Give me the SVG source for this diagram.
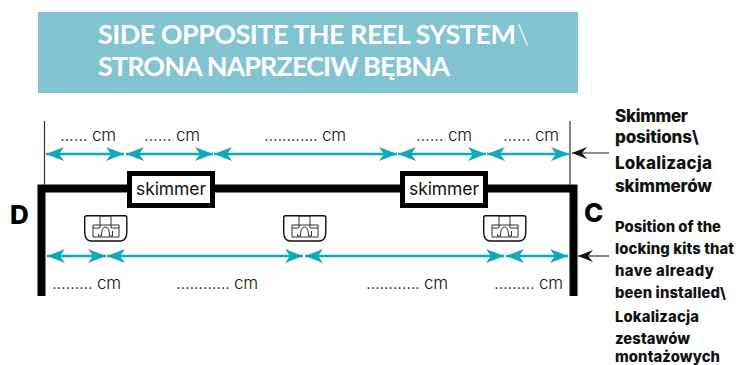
<svg xmlns="http://www.w3.org/2000/svg" width="747" height="365" viewBox="0 0 747 365">
<style>
text{font-family:"Inter","Liberation Sans",sans-serif}
.t{font-family:"Lato","Liberation Sans",sans-serif;font-size:27px;font-weight:700;fill:#fff}
.bs{font-weight:300}
.c{font-size:17px;font-weight:300;fill:#111}
.n{font-size:14.800px;font-weight:800;fill:#111}
.m{font-size:17px;font-weight:800;fill:#111}
.s{font-size:17.500px;font-weight:400;fill:#111}
.l{font-size:26px;font-weight:800;fill:#000}
.teal{stroke:#0eabbd;stroke-width:2.6;fill:none;marker-start:url(#ta);marker-end:url(#tb)}
.blk{stroke:#222;stroke-width:1.1;fill:none;marker-end:url(#ba)}
.box{fill:#fff;stroke:#000;stroke-width:5}
</style>
<defs>
<marker id="tb" markerUnits="userSpaceOnUse" markerWidth="20" markerHeight="16" refX="18" refY="7" orient="auto"><path d="M0 0L18 7L0 14L5 7Z" fill="#0eabbd"/></marker>
<marker id="ta" markerUnits="userSpaceOnUse" markerWidth="20" markerHeight="16" refX="0" refY="7" orient="auto"><path d="M18 0L0 7L18 14L13 7Z" fill="#0eabbd"/></marker>
<marker id="ba" markerUnits="userSpaceOnUse" markerWidth="16" markerHeight="14" refX="15" refY="6" orient="auto"><path d="M0 0L15 6L0 12L5 6Z" fill="#111"/></marker>
<g id="kit">
<path d="M0.700 2.500Q0.700 0.700 2.500 0.700H41Q42.800 0.700 42.800 2.500V17Q42.800 25 37 26H6.500Q0.700 25 0.700 17Z" fill="#fff" stroke="#111" stroke-width="1.400"/>
<path d="M9 10H35V22H9Z M16 1V13H9 M27 1V13H35 M16 1H27 M14.500 19V21H17.500Q17.500 12 21.500 12Q25.500 12 25.500 21H28.500V16" fill="none" stroke="#333" stroke-width="1"/>
</g>
</defs>
<g id="title"><rect x="38" y="12" width="540" height="81" fill="#82c4d2"/>
<text class="t" x="98" y="44" textLength="418">SIDE OPPOSITE THE REEL SYSTEM</text><text class="t bs" x="517" y="44">\</text>
<text class="t" x="98" y="76" textLength="352">STRONA NAPRZECIW BĘBNA</text></g>
<g id="frame"><path d="M41.500 296V188.500H573.500V296" fill="none" stroke="#000" stroke-width="8"/>
<path d="M44.500 121V185M570 121V185" stroke="#333" stroke-width="1.200" fill="none"/></g>
<g id="connectors">
<path class="teal" d="M46 154H124"/><path class="teal" d="M126 154H213"/><path class="teal" d="M214 154H397"/><path class="teal" d="M398 154H486"/><path class="teal" d="M487 154H569"/>
<path class="teal" d="M47 256H106"/><path class="teal" d="M107 256H303"/><path class="teal" d="M305 256H504"/><path class="teal" d="M506 256H568"/>
<path class="blk" d="M609 153H572"/><path class="blk" d="M609 256H578"/>
</g>
<g id="skimmer1"><rect class="box" x="129.500" y="173.500" width="83" height="32"/><text class="s" x="171" y="195" text-anchor="middle" textLength="70">skimmer</text></g>
<g id="skimmer2"><rect class="box" x="402.500" y="173.500" width="83" height="32"/><text class="s" x="444" y="195" text-anchor="middle" textLength="70">skimmer</text></g>
<g id="kit1"><use href="#kit" x="84" y="215"/></g>
<g id="kit2"><use href="#kit" x="283" y="215"/></g>
<g id="kit3"><use href="#kit" x="483" y="215"/></g>
<g id="labels">
<text class="c" x="60" y="141" textLength="56">...... cm</text><text class="c" x="144" y="141" textLength="56">...... cm</text><text class="c" x="264" y="141" textLength="82">............ cm</text><text class="c" x="416" y="141" textLength="56">...... cm</text><text class="c" x="503" y="141" textLength="56">...... cm</text>
<text class="c" x="52" y="289" textLength="69">......... cm</text><text class="c" x="176" y="289" textLength="82">............ cm</text><text class="c" x="366" y="289" textLength="82">............ cm</text><text class="c" x="494" y="289" textLength="69">......... cm</text>
<text class="l" x="10" y="224">D</text><text class="l" x="584" y="222">C</text>
</g>
<g id="note1"><text class="m" x="615" y="122" textLength="73">Skimmer</text><text class="m" x="615" y="143" textLength="77">positions</text><text class="m bs" x="692" y="143">\</text><text class="m" x="615" y="169" textLength="97">Lokalizacja</text><text class="m" x="615" y="192" textLength="97">skimmerów</text></g>
<g id="note2"><text class="n" x="615" y="232" textLength="106">Position of the</text><text class="n" x="615" y="254" textLength="119">locking kits that</text><text class="n" x="615" y="276" textLength="99">have already</text><text class="n" x="615" y="298" textLength="105">been installed</text><text class="n bs" x="720" y="298">\</text><text class="n" x="615" y="322" textLength="84">Lokalizacja</text><text class="n" x="615" y="344" textLength="75">zestawów</text><text class="n" x="615" y="361.500" textLength="105">montażowych</text></g>
</svg>
